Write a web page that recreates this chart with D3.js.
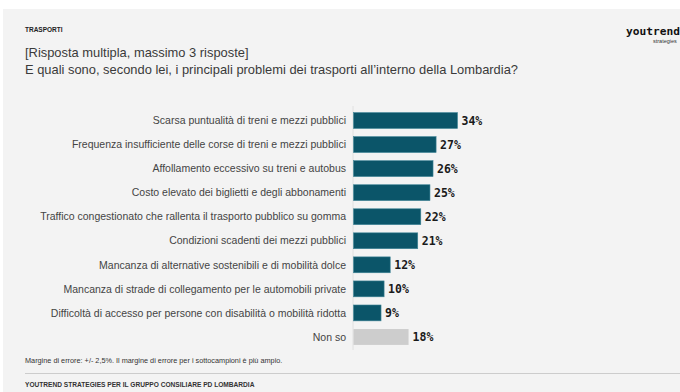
<!DOCTYPE html>
<html>
<head>
<meta charset="utf-8">
<script src="https://cdn.jsdelivr.net/npm/d3@7/dist/d3.min.js"></script>
<style>
  html, body { margin: 0; padding: 0; background: #ffffff; }
  svg { display: block; }
</style>
</head>
<body>
<svg id="chart" width="680" height="392"></svg>
<script>
// Survey answers (multiple choice, up to 3)
const categories = [
  "Scarsa puntualità di treni e mezzi pubblici",
  "Frequenza insufficiente delle corse di treni e mezzi pubblici",
  "Affollamento eccessivo su treni e autobus",
  "Costo elevato dei biglietti e degli abbonamenti",
  "Traffico congestionato che rallenta il trasporto pubblico su gomma",
  "Condizioni scadenti dei mezzi pubblici",
  "Mancanza di alternative sostenibili e di mobilità dolce",
  "Mancanza di strade di collegamento per le automobili private",
  "Difficoltà di accesso per persone con disabilità o mobilità ridotta",
  "Non so"
];
const values = [34, 27, 26, 25, 22, 21, 12, 10, 9, 18];
const neutralCategories = ["Non so"];

const svg = d3.select("#chart");
const W = 680, H = 392;
const sans = "'Liberation Sans', Arial, sans-serif";
const mono = "'DejaVu Sans Mono', monospace";

// Panel background
svg.append("rect").attr("x", 0).attr("y", 0).attr("width", W).attr("height", H).attr("fill", "#ffffff");
svg.append("rect").attr("x", 3).attr("y", 9).attr("width", W - 3).attr("height", H - 9).attr("fill", "#f3f3f3");

// Header
svg.append("text").attr("x", 25).attr("y", 32)
  .attr("font-family", sans).attr("font-size", 6.5).attr("font-weight", "bold")
  .attr("fill", "#222").text("TRASPORTI");
svg.append("text").attr("x", 25).attr("y", 57)
  .attr("font-family", sans).attr("font-size", 12.9).attr("fill", "#3a3a3a")
  .text("[Risposta multipla, massimo 3 risposte]");
svg.append("text").attr("x", 25).attr("y", 74)
  .attr("font-family", sans).attr("font-size", 12.9).attr("fill", "#3a3a3a")
  .text("E quali sono, secondo lei, i principali problemi dei trasporti all’interno della Lombardia?");

// Brand mark
svg.append("text").attr("x", 626).attr("y", 35)
  .attr("font-family", mono).attr("font-size", 11.2).attr("font-weight", "bold")
  .attr("fill", "#111").text("youtrend");
svg.append("text").attr("x", 653).attr("y", 43)
  .attr("font-family", sans).attr("font-size", 5.5).attr("fill", "#333")
  .text("strategies");

// Scales
const x = d3.scaleLinear().domain([0, 34]).range([353.5, 457.5]);
const y = d3.scaleBand().domain(categories).range([108.5, 349]).paddingInner(0.34).paddingOuter(0.17);

// Faint category axis
svg.append("line")
  .attr("x1", x(0) - 0.5).attr("x2", x(0) - 0.5)
  .attr("y1", 106).attr("y2", 350)
  .attr("stroke", "#e0e0e0").attr("stroke-width", 1);

// Category labels
svg.append("g").selectAll("text").data(categories).join("text")
  .attr("x", 346)
  .attr("y", d => y(d) + y.bandwidth() / 2)
  .attr("dy", "0.35em")
  .attr("text-anchor", "end")
  .attr("font-family", sans).attr("font-size", 10.5).attr("fill", "#444")
  .text(d => d);

// Bars
const rows = categories.map((c, i) => ({ c, v: values[i] }));
svg.append("g").selectAll("rect").data(rows).join("rect")
  .attr("x", x(0))
  .attr("y", d => y(d.c))
  .attr("width", d => x(d.v) - x(0))
  .attr("height", y.bandwidth())
  .attr("fill", d => neutralCategories.includes(d.c) ? "#cdcdcd" : "#0b5569")
  .attr("stroke", d => neutralCategories.includes(d.c) ? "none" : "#3f8597")
  .attr("stroke-width", 0.6);

// Value labels
svg.append("g").selectAll("text").data(rows).join("text")
  .attr("x", d => x(d.v) + 4)
  .attr("y", d => y(d.c) + y.bandwidth() / 2)
  .attr("dy", "0.36em")
  .attr("font-family", mono).attr("font-size", 11.5).attr("font-weight", "bold")
  .attr("fill", "#1a1a1a")
  .text(d => d.v + "%");

// Footer
svg.append("text").attr("x", 25).attr("y", 363)
  .attr("font-family", sans).attr("font-size", 7.3).attr("fill", "#333")
  .text("Margine di errore: +/- 2,5%. Il margine di errore per i sottocampioni è più ampio.");
svg.append("line").attr("x1", 25).attr("x2", W).attr("y1", 373.5).attr("y2", 373.5)
  .attr("stroke", "#cccccc").attr("stroke-width", 1);
svg.append("text").attr("x", 25).attr("y", 387)
  .attr("font-family", sans).attr("font-size", 6.6).attr("font-weight", "bold").attr("fill", "#333")
  .text("YOUTREND STRATEGIES PER IL GRUPPO CONSILIARE PD LOMBARDIA");
</script>
</body>
</html>
